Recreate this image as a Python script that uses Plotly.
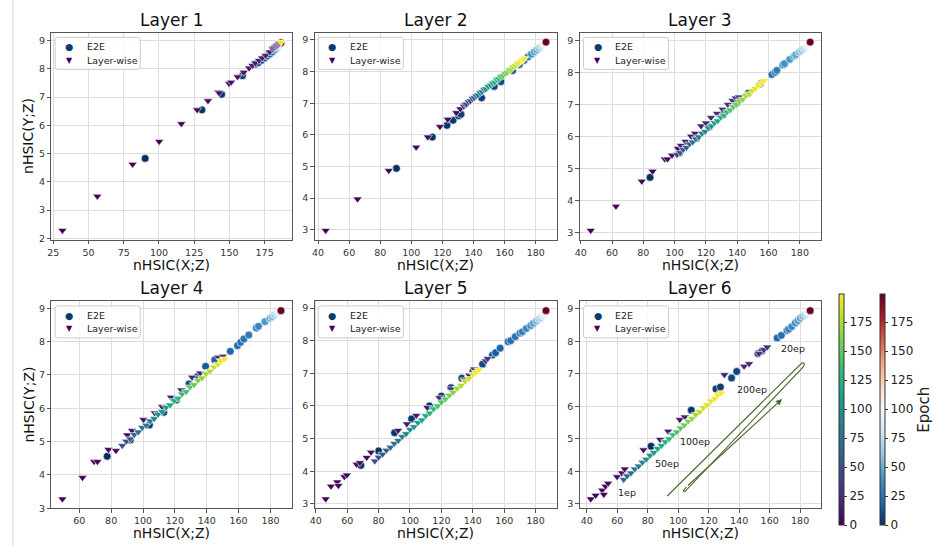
import plotly.graph_objects as go

# ------------------------------------------------------------------ data
# Layer 1
L1_e2e_x = [90.2, 130.5, 144.5, 159.3, 168.3, 170.4, 172.8, 174.9, 176.8, 178.7, 180.5, 182.0, 183.3, 184.4, 185.3, 185.9, 186.3, 186.6]
L1_e2e_y = [4.83, 6.55, 7.10, 7.76, 8.17, 8.22, 8.31, 8.39, 8.46, 8.53, 8.60, 8.67, 8.73, 8.78, 8.83, 8.87, 8.90, 8.93]
L1_e2e_ep = [0, 1, 2, 3, 4, 5, 7, 9, 12, 16, 22, 30, 40, 55, 75, 100, 140, 199]
L1_lw_x = [31.5, 56.3, 81.3, 100.2, 115.9, 127.1, 134.8, 142.0, 142.8, 149.8, 151.2, 155.8, 160.2, 164.0, 166.3, 168.4,
           171.0, 173.3, 175.7, 178.5, 180.8, 181.6, 182.4, 183.1, 183.7, 184.3, 184.9, 185.5, 186.0, 186.6]
L1_lw_y = [2.28, 3.49, 4.62, 5.43, 6.06, 6.55, 6.87, 7.18, 7.15, 7.48, 7.53, 7.72, 7.88, 8.03, 8.12, 8.21,
           8.30, 8.39, 8.48, 8.60, 8.71, 8.74, 8.77, 8.80, 8.82, 8.85, 8.87, 8.90, 8.92, 8.95]
L1_lw_ep = [0, 1, 2, 3, 4, 5, 6, 7, 8, 9, 10, 11, 12, 13, 14, 15, 16, 17, 18, 19, 20, 21, 22, 23, 24, 25, 26, 27, 28, 199]

# Layer 2
L2_e2e_x = [90.4, 113.5, 122.9, 126.8, 130.4, 131.9, 145.2, 153.3, 157.6, 165.1, 169.5, 172.5, 175.0, 177.2, 179.0,
            180.6, 182.0, 183.2, 184.2, 185.0, 185.7, 186.2, 186.6]
L2_e2e_y = [4.94, 5.93, 6.30, 6.46, 6.60, 6.65, 7.17, 7.53, 7.68, 8.03, 8.22, 8.35, 8.46, 8.55, 8.62,
            8.68, 8.74, 8.79, 8.83, 8.86, 8.89, 8.91, 8.93]
L2_e2e_ep = [0, 1, 2, 3, 4, 5, 6, 8, 10, 14, 20, 26, 32, 38, 44, 50, 57, 64, 72, 82, 95, 120, 199]
L2_lw_x = [44.9, 65.4, 85.5, 103.1, 110.6, 118.4, 123.4, 128.9, 131.5,
           133.8, 134.6, 135.5, 136.8, 138.0, 139.3, 140.5, 141.8, 143.0, 144.3,
           145.5, 146.8, 148.0, 149.5, 151.0, 152.3, 153.6, 155.0, 156.3, 157.6,
           159.0, 160.3, 161.6, 163.0, 164.3, 165.6, 167.0, 168.3, 169.6, 170.8,
           171.8, 172.5]
L2_lw_y = [2.98, 3.97, 4.87, 5.61, 5.93, 6.26, 6.49, 6.70, 6.82,
           6.90, 6.96, 6.97, 7.04, 7.07, 7.14, 7.17, 7.23, 7.26, 7.33,
           7.36, 7.43, 7.45, 7.53, 7.57, 7.63, 7.66, 7.74, 7.77, 7.84,
           7.87, 7.94, 7.97, 8.04, 8.07, 8.14, 8.18, 8.25, 8.28, 8.35,
           8.37, 8.41]
L2_lw_ep = [0, 1, 2, 3, 4, 5, 6, 7, 12,
            25, 32, 38, 44, 50, 56, 62, 68, 74, 80,
            86, 92, 98, 104, 110, 116, 122, 128, 134, 140,
            146, 152, 158, 164, 170, 176, 182, 187, 191, 195,
            198, 199]

# Layer 3
L3_e2e_x = [84.3, 103.0, 114.0, 122.0, 131.0, 140.0, 147.0, 154.8, 162.1, 164.2, 165.3, 169.1, 170.2, 173.5, 176.2,
            177.2, 179.5, 181.0, 182.5, 184.0, 185.0, 185.8, 186.3, 186.6]
L3_e2e_y = [4.73, 5.50, 5.95, 6.30, 6.68, 7.05, 7.35, 7.64, 7.93, 8.00, 8.06, 8.23, 8.27, 8.40, 8.50,
            8.54, 8.63, 8.68, 8.74, 8.80, 8.85, 8.89, 8.92, 8.94]
L3_e2e_ep = [0, 1, 2, 3, 4, 5, 6, 12, 25, 28, 30, 35, 38, 42, 45, 48, 55, 62, 70, 80, 90, 100, 130, 199]
L3_lw_x = [46.4, 62.5, 79.0, 85.9, 93.7, 95.4, 98.3, 102.1,
           104.0, 107.0, 110.5, 113.0, 116.9, 120.0, 123.2, 127.0, 130.6, 134.0, 137.0, 139.0, 141.0,
           101.5, 103.5, 105.5, 107.5, 109.5, 111.5, 113.5, 115.5, 117.5, 119.5,
           121.5, 123.5, 125.5, 127.5, 129.5, 131.5, 133.5, 135.5, 137.5, 139.5,
           141.5, 143.5, 145.5, 147.5, 149.5, 151.5, 153.5, 155.5, 157.0]
L3_lw_y = [3.08, 3.83, 4.61, 4.92, 5.30, 5.30, 5.42, 5.63,
           5.72, 5.85, 6.01, 6.10, 6.33, 6.42, 6.59, 6.72, 6.85, 7.00, 7.12, 7.20, 7.23,
           5.44, 5.50, 5.60, 5.66, 5.77, 5.83, 5.93, 5.99, 6.10, 6.16,
           6.27, 6.33, 6.43, 6.49, 6.60, 6.66, 6.77, 6.83, 6.93, 7.00,
           7.10, 7.16, 7.27, 7.33, 7.43, 7.50, 7.60, 7.66, 7.74]
L3_lw_ep = [0, 1, 2, 3, 4, 5, 6, 7,
            9, 11, 13, 15, 17, 19, 21, 23, 25, 27, 29, 31, 33,
            40, 46, 52, 58, 64, 70, 76, 82, 88, 94,
            100, 106, 112, 118, 124, 130, 136, 142, 148, 154,
            160, 166, 172, 178, 184, 189, 194, 197, 199]

# Layer 4
L4_e2e_x = [77.5, 92.0, 104.0, 113.0, 121.0, 128.8, 134.0, 139.3, 145.0, 154.8, 159.3, 161.3, 163.3, 166.4, 171.1,
            172.5, 176.5, 179.6, 181.0, 182.6, 184.0, 185.2, 186.0, 186.6]
L4_e2e_y = [4.56, 5.05, 5.50, 5.88, 6.25, 6.73, 6.95, 7.26, 7.45, 7.71, 7.88, 7.98, 8.08, 8.20, 8.41,
            8.46, 8.60, 8.70, 8.74, 8.80, 8.85, 8.89, 8.92, 8.93]
L4_e2e_ep = [0, 2, 4, 6, 8, 10, 12, 14, 17, 20, 22, 24, 26, 28, 32, 34, 42, 50, 56, 64, 75, 88, 110, 199]
L4_lw_x = [49.4, 62.0, 69.3, 71.4, 78.3, 83.0, 90.1, 93.1, 100.3, 107.4, 112.0, 117.5, 124.0, 130.8, 135.9, 147.1, 150.1,
           87.0, 89.5, 92.0, 94.5, 97.0, 99.5, 102.0, 104.5, 107.0, 109.5,
           112.0, 114.5, 117.0, 119.5, 122.0, 124.5, 127.0, 129.5, 132.0, 134.5,
           137.0, 139.5, 142.0, 144.5, 147.0, 149.0, 151.0]
L4_lw_y = [3.28, 3.92, 4.40, 4.40, 4.76, 4.73, 5.20, 5.33, 5.66, 5.86, 6.05, 6.33, 6.55, 6.93, 7.06, 7.53, 7.56,
           4.88, 5.01, 5.08, 5.21, 5.29, 5.42, 5.49, 5.62, 5.69, 5.82,
           5.90, 6.03, 6.10, 6.23, 6.30, 6.43, 6.50, 6.64, 6.71, 6.84,
           6.91, 7.04, 7.11, 7.24, 7.32, 7.43, 7.48]
L4_lw_ep = [0, 1, 2, 3, 4, 5, 7, 9, 11, 13, 15, 17, 19, 21, 23, 25, 27,
            45, 50, 56, 62, 68, 74, 80, 86, 92, 98,
            104, 110, 116, 122, 128, 134, 140, 146, 152, 158,
            164, 170, 176, 182, 188, 194, 199]

# Layer 5
L5_e2e_x = [68.7, 80.0, 90.2, 101.0, 112.4, 120.0, 126.1, 133.0, 140.0, 146.2,
            152.5, 154.5, 157.4, 162.5, 164.1, 167.0, 170.0, 171.5, 174.0, 176.8,
            178.5, 180.5, 182.0, 183.1, 184.2, 185.2, 186.0, 186.6]
L5_e2e_y = [4.18, 4.62, 5.18, 5.60, 6.00, 6.30, 6.56, 6.85, 7.05, 7.28,
            7.56, 7.63, 7.77, 7.97, 8.00, 8.12, 8.23, 8.27, 8.37, 8.46,
            8.53, 8.60, 8.66, 8.70, 8.76, 8.82, 8.87, 8.92]
L5_e2e_ep = [0, 1, 2, 3, 4, 5, 6, 7, 8, 10,
             14, 16, 18, 21, 23, 26, 29, 31, 35, 40,
             45, 52, 60, 68, 78, 90, 110, 199]
L5_lw_x = [46.3, 49.7, 53.7, 54.4, 58.2, 59.8, 66.0, 68.1, 72.4, 75.2,
           92.4, 98.0, 104.0, 111.0, 118.7, 126.0, 134.6, 137.7, 140.9, 148.3, 149.4,
           77.6, 80.0, 82.5, 85.0, 87.5, 90.0, 92.5, 95.0, 97.5, 100.0,
           102.5, 105.0, 107.5, 110.0, 112.5, 115.0, 117.5, 120.0, 122.5, 125.0,
           127.5, 130.0, 132.5, 135.0, 137.5, 140.0, 142.0, 143.7]
L5_lw_y = [3.15, 3.54, 3.67, 3.56, 3.83, 3.88, 4.21, 4.26, 4.42, 4.58,
           5.25, 5.45, 5.71, 5.95, 6.25, 6.52, 6.80, 6.94, 7.13, 7.38, 7.45,
           4.31, 4.43, 4.52, 4.64, 4.73, 4.85, 4.94, 5.06, 5.15, 5.28,
           5.36, 5.49, 5.57, 5.70, 5.78, 5.91, 6.00, 6.12, 6.21, 6.33,
           6.42, 6.54, 6.63, 6.76, 6.84, 6.97, 7.03, 7.10]
L5_lw_ep = [0, 1, 2, 3, 4, 5, 6, 7, 8, 9,
            11, 13, 15, 17, 19, 21, 23, 25, 27, 29, 31,
            45, 50, 55, 60, 66, 72, 78, 84, 90, 96,
            102, 108, 114, 120, 126, 132, 138, 144, 150, 156,
            162, 168, 174, 180, 186, 192, 196, 199]

# Layer 6
L6_e2e_x = [82.2, 108.6, 124.8, 127.7, 135.0, 138.4, 152.3, 155.0, 164.9, 167.7, 171.4, 172.5, 174.5, 176.8,
            178.5, 180.0, 181.7, 183.2, 184.3, 185.2, 185.9, 186.6]
L6_e2e_y = [4.77, 5.88, 6.53, 6.59, 6.87, 7.07, 7.62, 7.70, 8.10, 8.18, 8.33, 8.37, 8.45, 8.56,
            8.63, 8.71, 8.77, 8.82, 8.86, 8.89, 8.91, 8.94]
L6_e2e_ep = [0, 2, 4, 5, 7, 8, 12, 15, 20, 24, 28, 30, 34, 38, 43, 48, 55, 62, 72, 82, 100, 199]
L6_lw_x = [42.6, 45.8, 50.1, 51.2, 52.3, 54.0, 59.9, 63.1, 64.9,
           77.2, 88.1, 93.4, 101.0, 104.3, 130.3, 143.2, 146.5, 153.0, 156.2, 158.4,
           64.2, 66.5, 69.0, 71.5, 74.0, 76.5, 79.0, 81.5, 84.0, 86.5,
           89.0, 91.5, 94.0, 96.5, 99.0, 101.5, 104.0, 106.5, 109.0, 111.5,
           114.0, 116.5, 119.0, 121.5, 124.0, 126.0, 128.1]
L6_lw_y = [3.15, 3.26, 3.42, 3.29, 3.54, 3.63, 3.83, 3.95, 4.07,
           4.66, 4.98, 5.23, 5.59, 5.67, 6.97, 7.23, 7.31, 7.62, 7.74, 7.82,
           3.75, 3.86, 3.95, 4.07, 4.16, 4.28, 4.37, 4.49, 4.58, 4.70,
           4.79, 4.91, 5.00, 5.12, 5.21, 5.33, 5.42, 5.54, 5.62, 5.75,
           5.83, 5.96, 6.04, 6.16, 6.24, 6.35, 6.41]
L6_lw_ep = [0, 1, 2, 3, 4, 5, 6, 7, 8,
            10, 12, 14, 16, 17, 19, 21, 22, 24, 26, 28,
            62, 67, 72, 78, 84, 90, 96, 101, 106, 112,
            118, 124, 130, 136, 142, 148, 154, 160, 166, 172,
            178, 184, 189, 193, 196, 198, 199]

# Layer-6 annotation texts and their positions (data units)
EP_LABELS = ["1ep", "50ep", "100ep", "200ep", "20ep"]
EP_LABEL_X = [66.2, 92.8, 111.0, 148.6, 175.3]
EP_LABEL_Y = [3.36, 4.25, 4.92, 6.52, 7.78]

LAYER_TITLES = ["Layer 1", "Layer 2", "Layer 3", "Layer 4", "Layer 5", "Layer 6"]
X_TICKS = [[25, 50, 75, 100, 125, 150, 175]] + [[40, 60, 80, 100, 120, 140, 160, 180]] * 5
Y_TICKS = [[2, 3, 4, 5, 6, 7, 8, 9]] + [[3, 4, 5, 6, 7, 8, 9]] * 5
CBAR_TICKS = [0, 25, 50, 75, 100, 125, 150, 175]

E2E_X = [L1_e2e_x, L2_e2e_x, L3_e2e_x, L4_e2e_x, L5_e2e_x, L6_e2e_x]
E2E_Y = [L1_e2e_y, L2_e2e_y, L3_e2e_y, L4_e2e_y, L5_e2e_y, L6_e2e_y]
E2E_EP = [L1_e2e_ep, L2_e2e_ep, L3_e2e_ep, L4_e2e_ep, L5_e2e_ep, L6_e2e_ep]
LW_X = [L1_lw_x, L2_lw_x, L3_lw_x, L4_lw_x, L5_lw_x, L6_lw_x]
LW_Y = [L1_lw_y, L2_lw_y, L3_lw_y, L4_lw_y, L5_lw_y, L6_lw_y]
LW_EP = [L1_lw_ep, L2_lw_ep, L3_lw_ep, L4_lw_ep, L5_lw_ep, L6_lw_ep]

# ------------------------------------------------------------------ style / layout
W, H = 933, 551
FONT = "DejaVu Sans"
RDBU_R = [[0.0, '#053061'], [0.1, '#2166ac'], [0.2, '#4393c3'], [0.3, '#92c5de'], [0.4, '#d1e5f0'],
          [0.5, '#f7f7f7'], [0.6, '#fddbc7'], [0.7, '#f4a582'], [0.8, '#d6604d'], [0.9, '#b2182b'],
          [1.0, '#67001f']]
COLS = [(47, 290), (313, 558), (581, 825)]
ROWS = [(33, 242), (304, 513)]
GRID = '#dddddd'
SPINE = '#555555'


def fx(p):
    return p / W


def fy(p):
    return 1 - p / H


def rrect_path(x0, y0, x1, y1, r=2.5):
    pts = [('M', x0 + r, y0), ('L', x1 - r, y0), ('Q', x1, y0, x1, y0 + r), ('L', x1, y1 - r),
           ('Q', x1, y1, x1 - r, y1), ('L', x0 + r, y1), ('Q', x0, y1, x0, y1 - r),
           ('L', x0, y0 + r), ('Q', x0, y0, x0 + r, y0)]
    out = []
    for p in pts:
        cmd, coords = p[0], p[1:]
        seg = []
        for k in range(0, len(coords), 2):
            seg.append(f"{fx(coords[k]):.5f},{fy(coords[k + 1]):.5f}")
        out.append(cmd + ' ' + ' '.join(seg))
    return ' '.join(out) + ' Z'


fig = go.Figure()
layout = {}
shapes = []
annotations = []

for i in range(6):
    r, c = divmod(i, 3)
    (l, rt), (t, b) = COLS[c], ROWS[r]
    sfx = '' if i == 0 else str(i + 1)
    xs = E2E_X[i] + LW_X[i]
    ys = E2E_Y[i] + LW_Y[i]
    xpad = 0.05 * (max(xs) - min(xs))
    ypad = 0.05 * (max(ys) - min(ys))
    last = (i == 5)

    fig.add_trace(go.Scatter(
        x=E2E_X[i], y=E2E_Y[i], mode='markers', xaxis='x' + sfx, yaxis='y' + sfx,
        showlegend=False, hoverinfo='skip',
        marker=dict(symbol='circle', size=7.8, color=E2E_EP[i], colorscale=RDBU_R, cmin=0, cmax=199,
                    line=dict(color='white', width=0.6), showscale=last,
                    colorbar=dict(x=fx(884), xanchor='left', xpad=0, y=fy(413.5), yanchor='middle',
                                  len=233 / H, lenmode='fraction', ypad=0, thickness=5,
                                  outlinewidth=1, outlinecolor='#333333',
                                  tickvals=CBAR_TICKS, ticks='outside', ticklen=3, tickcolor='#333333',
                                  tickfont=dict(family=FONT, size=12, color='#222222'),
                                  title=dict(text='Epoch', side='right',
                                             font=dict(family=FONT, size=15, color='#222222')))),
    ))
    fig.add_trace(go.Scatter(
        x=LW_X[i], y=LW_Y[i], mode='markers', xaxis='x' + sfx, yaxis='y' + sfx,
        showlegend=False, hoverinfo='skip',
        marker=dict(symbol='triangle-down', size=8, color=LW_EP[i], colorscale='Viridis', cmin=0, cmax=199,
                    line=dict(color='white', width=0.6), showscale=last,
                    colorbar=dict(x=fx(843), xanchor='left', xpad=0, y=fy(413.5), yanchor='middle',
                                  len=233 / H, lenmode='fraction', ypad=0, thickness=5,
                                  outlinewidth=1, outlinecolor='#333333',
                                  tickvals=CBAR_TICKS, ticks='outside', ticklen=3, tickcolor='#333333',
                                  tickfont=dict(family=FONT, size=12, color='#222222'))),
    ))

    common = dict(showgrid=True, gridcolor=GRID, gridwidth=1, showline=True, mirror=True,
                  linecolor=SPINE, linewidth=1, ticks='outside', ticklen=3.5, tickcolor=SPINE,
                  tickfont=dict(family=FONT, size=9.5, color='#333333'), zeroline=False)
    layout['xaxis' + sfx] = dict(domain=[fx(l), fx(rt)], anchor='y' + sfx,
                                 range=[min(xs) - xpad, max(xs) + xpad], tickvals=X_TICKS[i], **common)
    layout['yaxis' + sfx] = dict(domain=[fy(b), fy(t)], anchor='x' + sfx,
                                 range=[min(ys) - ypad, max(ys) + ypad], tickvals=Y_TICKS[i], **common)

    # title and axis labels
    annotations.append(dict(text=LAYER_TITLES[i], x=fx((l + rt) / 2), y=fy(t - 1), xref='paper', yref='paper',
                            xanchor='center', yanchor='bottom', showarrow=False,
                            font=dict(family=FONT, size=17, color='#111111')))
    annotations.append(dict(text='nHSIC(X;Z)', x=fx((l + rt) / 2), y=fy(b + 25), xref='paper', yref='paper',
                            xanchor='center', yanchor='middle', showarrow=False,
                            font=dict(family=FONT, size=14, color='#111111')))
    if c == 0:
        annotations.append(dict(text='nHSIC(Y;Z)', x=fx(24), y=fy((t + b) / 2), xref='paper', yref='paper',
                                xanchor='center', yanchor='middle', showarrow=False, textangle=-90,
                                font=dict(family=FONT, size=14, color='#111111')))

    # legend box
    shapes.append(dict(type='path', xref='paper', yref='paper',
                       path=rrect_path(l + 3.7, t + 4.7, l + 89.7, t + 37),
                       fillcolor='rgba(255,255,255,0.85)', line=dict(color='#cccccc', width=1)))
    annotations.append(dict(text='●', x=fx(l + 18), y=fy(t + 14), xref='paper', yref='paper',
                            xanchor='center', yanchor='middle', showarrow=False,
                            font=dict(family=FONT, size=9.5, color='#0a3a70')))
    annotations.append(dict(text='▼', x=fx(l + 18), y=fy(t + 28), xref='paper', yref='paper',
                            xanchor='center', yanchor='middle', showarrow=False,
                            font=dict(family=FONT, size=8, color='#440154')))
    annotations.append(dict(text='E2E', x=fx(l + 34), y=fy(t + 14), xref='paper', yref='paper',
                            xanchor='left', yanchor='middle', showarrow=False,
                            font=dict(family=FONT, size=9.5, color='#222222')))
    annotations.append(dict(text='Layer-wise', x=fx(l + 34), y=fy(t + 28), xref='paper', yref='paper',
                            xanchor='left', yanchor='middle', showarrow=False,
                            font=dict(family=FONT, size=9.5, color='#222222')))

# Layer 6 epoch labels
for txt, ex, ey in zip(EP_LABELS, EP_LABEL_X, EP_LABEL_Y):
    annotations.append(dict(text=txt, x=ex, y=ey, xref='x6', yref='y6', xanchor='center', yanchor='middle',
                            showarrow=False, font=dict(family=FONT, size=9.5, color='#222222')))

# hand-drawn looping arrow in Layer 6
ARROW = '#4a6b2a'
shapes.append(dict(type='path', xref='x6', yref='y6', line=dict(color=ARROW, width=1.1),
                   path='M 92.8,3.24 L 181.1,7.33 Q 183.6,7.36 182.2,7.22 L 104.7,3.39 Q 101.9,3.34 105.4,3.52'))
annotations.append(dict(text='', x=168.1, y=6.22, ax=105.4, ay=3.52, xref='x6', yref='y6',
                        axref='x6', ayref='y6', showarrow=True, arrowhead=2, arrowsize=1.1,
                        arrowwidth=1.1, arrowcolor=ARROW))

# faint page border line on the left
shapes.append(dict(type='line', xref='paper', yref='paper', x0=fx(8), x1=fx(8), y0=0, y1=1,
                   line=dict(color='#d5d5d5', width=1)))

fig.update_layout(width=W, height=H, margin=dict(l=0, r=0, t=0, b=0), autosize=False,
                  paper_bgcolor='white', plot_bgcolor='white', showlegend=False,
                  font=dict(family=FONT, color='#222222'), shapes=shapes, annotations=annotations,
                  **layout)

fig.write_html("out.html")
